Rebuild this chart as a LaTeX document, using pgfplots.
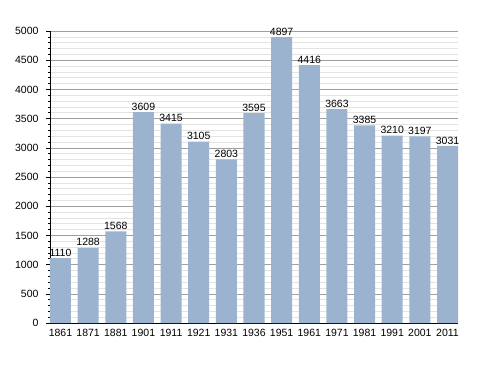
\documentclass[border=0pt]{standalone}
\usepackage{pgfplots}
\pgfplotsset{compat=1.18}
\usepackage{fontspec}
\setmainfont{Liberation Sans}
\definecolor{barblue}{RGB}{155,179,206}
\begin{document}
\begin{tikzpicture}[x=1pt,y=1pt]
\path[use as bounding box] (0,0) rectangle (488,373);
\begin{axis}[at={(50pt,50pt)}, anchor=south west, scale only axis,
  width=408pt, height=292pt,
  xmin=-0.3795, xmax=14.3795, ymin=0, ymax=5000,
  ybar, bar width=21pt,
  axis x line*=bottom, axis y line*=left,
  axis line style={black, line width=0.8pt},
  xtick=data,
  xticklabels={1861,1871,1881,1901,1911,1921,1931,1936,1951,1961,1971,1981,1991,2001,2011},
  x tick style={draw=none},
  ytick={0,500,...,5000}, minor y tick num=4,
  ymajorgrids, yminorgrids,
  major grid style={gray!75, line width=0.6pt},
  minor grid style={gray!22, line width=0.6pt},
  tick align=outside, major tick length=4pt, minor tick length=2pt,
  y tick style={black, line width=0.6pt},
  tick label style={font=\fontsize{10.5}{11}\selectfont},
  yticklabel style={xshift=-4pt},
  xticklabel style={yshift=1pt},
  /pgf/number format/assume math mode=true,
  /pgf/number format/1000 sep={},
  nodes near coords,
  nodes near coords style={font=\fontsize{10.5}{11}\selectfont, /pgf/number format/1000 sep={}, /pgf/number format/assume math mode=true, inner sep=1.5pt},
  ]
\addplot[fill=barblue, draw=none] coordinates {
(0,1110) (1,1288) (2,1568) (3,3609) (4,3415) (5,3105) (6,2803) (7,3595)
(8,4897) (9,4416) (10,3663) (11,3385) (12,3210) (13,3197) (14,3031)};
\end{axis}
\end{tikzpicture}
\end{document}
